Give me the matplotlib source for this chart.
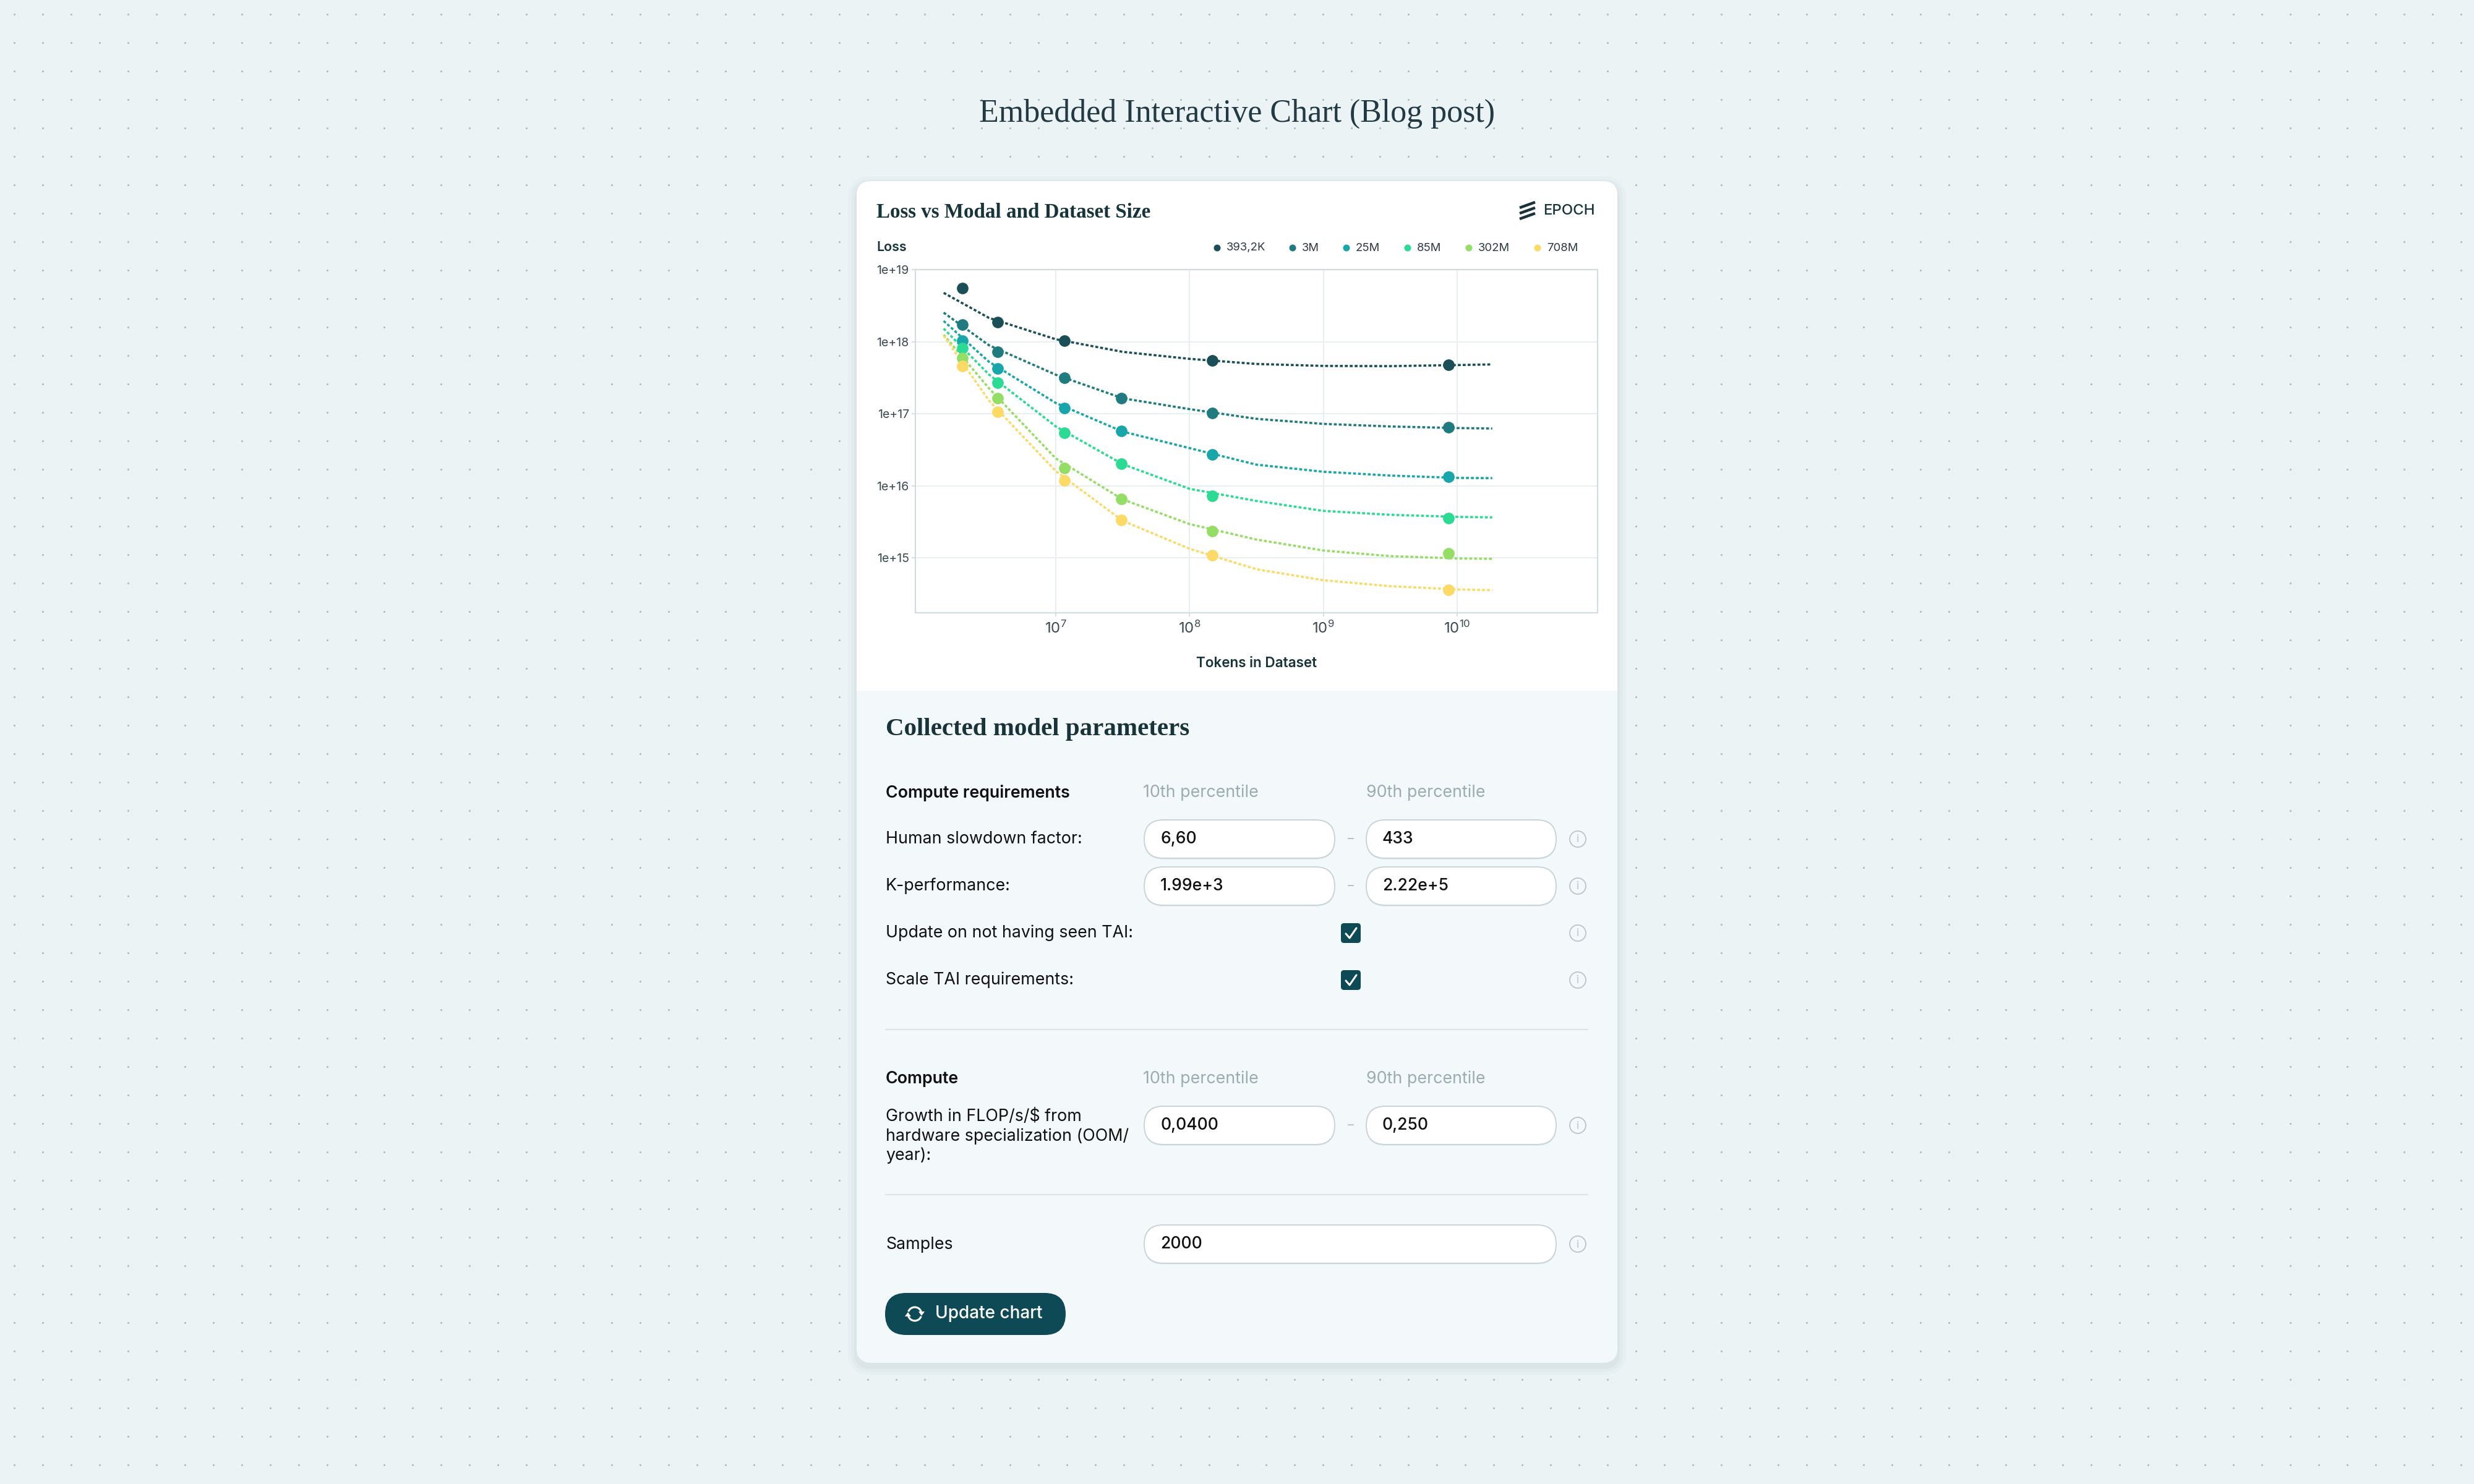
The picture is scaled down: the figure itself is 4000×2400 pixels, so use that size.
import numpy as np
import matplotlib
matplotlib.use("Agg")
import matplotlib.pyplot as plt
from matplotlib.patches import FancyBboxPatch, Circle, Rectangle, Arc, Polygon
from matplotlib.ticker import FixedLocator, NullLocator

SANS = ['Inter', 'DejaVu Sans']
SERIF = ['Liberation Serif', 'DejaVu Serif']
plt.rcParams['font.family'] = SANS
plt.rcParams['mathtext.fontset'] = 'custom'
plt.rcParams['mathtext.rm'] = 'Inter'
plt.rcParams['mathtext.it'] = 'Inter'
plt.rcParams['mathtext.bf'] = 'Inter'

# ---- chart data ----
model_sizes = ['393,2K', '3M', '25M', '85M', '302M', '708M']
series_colors = ['#1B4F58', '#1F7B80', '#18A6AB', '#2BDB93', '#95DE66', '#FDD966']

tokens = [2.00e6, 3.66e6, 1.16e7, 3.09e7, 1.48e8, 8.65e9]
loss_393k = [5.56e18, 1.87e18, 1.03e18, np.nan, 5.46e17, 4.74e17]
loss_3m = [1.72e18, 7.23e17, 3.16e17, 1.66e17, 1.03e17, 6.53e16]
loss_25m = [1.03e18, 4.27e17, 1.19e17, 5.75e16, 2.75e16, 1.34e16]
loss_85m = [8.20e17, 2.67e17, 5.40e16, 2.04e16, 7.26e15, 3.57e15]
loss_302m = [5.98e17, 1.66e17, 1.77e16, 6.64e15, 2.36e15, 1.16e15]
loss_708m = [4.61e17, 1.07e17, 1.19e16, 3.35e15, 1.09e15, 3.58e14]

# dotted fit lines, sampled along each curve
fit_tokens = [1.45e6, 3.16e6, 1.0e7, 3.16e7, 1.0e8, 3.16e8, 1.0e9, 3.16e9, 1.0e10, 1.83e10]
fit_393k = [4.76e18, 2.14e18, 1.08e18, 7.23e17, 5.78e17, 4.91e17, 4.61e17, 4.58e17, 4.74e17, 4.84e17]
fit_3m = [2.53e18, 8.93e17, 3.48e17, 1.64e17, 1.16e17, 8.51e16, 7.24e16, 6.67e16, 6.34e16, 6.25e16]
fit_25m = [1.94e18, 5.27e17, 1.41e17, 5.66e16, 3.34e16, 1.97e16, 1.57e16, 1.39e16, 1.29e16, 1.28e16]
fit_85m = [1.52e18, 3.51e17, 6.67e16, 2.00e16, 9.10e15, 6.18e15, 4.50e15, 3.97e15, 3.72e15, 3.65e15]
fit_302m = [1.25e18, 2.26e17, 2.40e16, 6.49e15, 2.95e15, 1.80e15, 1.27e15, 1.06e15, 9.86e14, 9.73e14]
fit_708m = [1.21e18, 1.53e17, 1.60e16, 3.28e15, 1.34e15, 6.98e14, 4.91e14, 4.06e14, 3.66e14, 3.58e14]

y_ticks = [1e15, 1e16, 1e17, 1e18, 1e19]
y_tick_labels = ['1e+15', '1e+16', '1e+17', '1e+18', '1e+19']
x_ticks = [1e7, 1e8, 1e9, 1e10]
x_tick_labels = [r'$10^{7}$', r'$10^{8}$', r'$10^{9}$', r'$10^{10}$']

# ---- form contents ----
range_rows = [('Human slowdown factor:', '6,60', '433'),
              ('K-performance:', '1.99e+3', '2.22e+5')]
check_rows = ['Update on not having seen TAI:', 'Scale TAI requirements:']
growth_label = ['Growth in FLOP/s/\\$ from', 'hardware specialization (OOM/', 'year):']
growth_values = ('0,0400', '0,250')
samples_value = '2000'

W, H = 4000, 2400
DARK = '#17343B'
TEAL = '#0E4A55'
GREY = '#9DACB1'
LABEL_PX = 26.8


def pt(px):
    # font size in points for a given em size in pixels (dpi 100)
    return px * 0.72


def rbox(ax, x, y, w, h, r, **kw):
    p = FancyBboxPatch((x, y), w, h, boxstyle=f'round,pad=0,rounding_size={r}', **kw)
    ax.add_patch(p)
    return p


def input_box(ax, x0, x1, yc, value, h=62):
    rbox(ax, x0, yc - h / 2 + 2, x1 - x0, h, h / 2, fc='#E4EBED', ec='none', zorder=2)
    rbox(ax, x0, yc - h / 2, x1 - x0, h, h / 2, fc='white', ec='#C9D4D7', lw=1.4, zorder=3)
    ax.text(x0 + 26, yc, value, fontsize=pt(26.5), color='#111111', weight='medium',
            ha='left', va='center', zorder=4)


def info_icon(ax, yc):
    ax.add_patch(Circle((2551, yc), 13, fill=False, ec='#BAC5C9', lw=1.3, zorder=3))
    ax.text(2551, yc + 1, 'i', fontsize=pt(17), color='#BAC5C9', ha='center', va='center', zorder=4)


def checkbox(ax, yc):
    rbox(ax, 2168, yc - 16, 32, 32, 5, fc=TEAL, ec='none', zorder=3)
    ax.plot([2176, 2182, 2193], [yc + 1, yc + 8, yc - 8], color='white', lw=2.2,
            solid_capstyle='round', zorder=4)


def main():
    fig = plt.figure(figsize=(W / 100, H / 100), dpi=100, facecolor='#EBF3F5')
    ui = fig.add_axes([0, 0, 1, 1])
    ui.set_xlim(0, W)
    ui.set_ylim(H, 0)
    ui.axis('off')

    # dotted page background
    gx, gy = np.meshgrid(np.arange(23, W, 46), np.arange(23, H, 46))
    ui.scatter(gx.ravel(), gy.ravel(), s=5, color='#B1BCC0', lw=0, zorder=0)

    ui.text(2000, 184, 'Embedded Interactive Chart (Blog post)', family=SERIF,
            fontsize=pt(52), color='#223A44', ha='center', va='center')

    # card with soft shadow
    for i, a in enumerate([0.018, 0.022, 0.028]):
        g = 14 - i * 5
        rbox(ui, 1385 - g, 293 - g + 6, 1230 + 2 * g, 1911 + 2 * g, 24 + g,
             fc='#1B3A44', ec='none', alpha=a, zorder=1)
    rbox(ui, 1385, 293, 1230, 1911, 24, fc='#F3F8FA', ec='none', zorder=1)
    rbox(ui, 1385, 293, 1230, 824, 24, fc='white', ec='none', zorder=1)
    ui.add_patch(Rectangle((1385, 1080), 1230, 37, fc='white', ec='none', zorder=1))

    # chart header
    ui.text(1417, 343, 'Loss vs Modal and Dataset Size', family=SERIF, weight='bold',
            fontsize=pt(33), color=DARK, ha='left', va='center', zorder=5)
    for i in range(3):
        yb = 340 + (i - 1) * 9
        ui.plot([2457, 2482], [yb + 5, yb - 4], color=DARK, lw=3.2,
                solid_capstyle='butt', zorder=5)
    ui.text(2495, 341, 'EPOCH', fontsize=pt(24), weight='medium', color=DARK,
            ha='left', va='center', zorder=5)
    ui.text(1417, 400, 'Loss', fontsize=pt(21.5), weight='semibold', color=DARK,
            ha='left', va='center', zorder=5)

    legend_x = [1968, 2090, 2177, 2276, 2375, 2486]
    for lx, name, c in zip(legend_x, model_sizes, series_colors):
        ui.add_patch(Circle((lx, 401), 5.5, fc=c, ec='none', zorder=5))
        ui.text(lx + 15, 401, name, fontsize=pt(18.5), color='#2A3A3F',
                ha='left', va='center', zorder=5)

    ui.text(2032, 1073, 'Tokens in Dataset', fontsize=pt(22.5), weight='semibold',
            color=DARK, ha='center', va='center', zorder=5)

    # ---- the chart ----
    ax = fig.add_axes([1480 / W, 1 - 991 / H, (2583 - 1480) / W, (991 - 436) / H], zorder=3)
    ax.set_xscale('log')
    ax.set_yscale('log')
    ax.set_facecolor('white')
    all_loss = [loss_393k, loss_3m, loss_25m, loss_85m, loss_302m, loss_708m]
    all_fit = [fit_393k, fit_3m, fit_25m, fit_85m, fit_302m, fit_708m]
    for loss, fit, c in zip(all_loss, all_fit, series_colors):
        ax.plot(fit_tokens, fit, color=c, lw=2.6, dashes=(1.3, 0.9), zorder=2)
        ax.scatter(tokens, loss, s=13.5 ** 2, color=c, lw=0, zorder=3)
    ax.set_xlim(10 ** 5.95, 10 ** 11.05)
    ax.set_ylim(10 ** 14.24, 10 ** 19)
    ax.xaxis.set_major_locator(FixedLocator(x_ticks))
    ax.yaxis.set_major_locator(FixedLocator(y_ticks))
    ax.xaxis.set_minor_locator(NullLocator())
    ax.yaxis.set_minor_locator(NullLocator())
    ax.set_xticklabels(x_tick_labels)
    ax.set_yticklabels(y_tick_labels)
    ax.grid(True, color='#E8EFF1', lw=1.5, zorder=0)
    ax.set_axisbelow(True)
    for s in ax.spines.values():
        s.set_color('#D3DCDE')
        s.set_linewidth(1.6)
    ax.tick_params(axis='x', length=4.3, width=1.3, color='#D3DCDE', pad=5,
                   labelsize=pt(24), labelcolor='#3A4A50')
    ax.tick_params(axis='y', length=4.3, width=1.3, color='#D3DCDE', pad=3,
                   labelsize=pt(19.5), labelcolor='#3A4A50')

    # ---- parameter form ----
    ui.text(1432, 1179, 'Collected model parameters', family=SERIF, weight='bold',
            fontsize=pt(41), color=DARK, ha='left', va='center', zorder=5)

    lab = dict(fontsize=pt(LABEL_PX), ha='left', va='center', zorder=5)
    for yh, head in [(1282, 'Compute requirements'), (1745, 'Compute')]:
        ui.text(1432, yh, head, color='#111111', weight='semibold', **lab)
        ui.text(1848, yh, '10th percentile', color=GREY, **lab)
        ui.text(2209, yh, '90th percentile', color=GREY, **lab)

    for yc, (name, lo, hi) in zip([1357, 1433], range_rows):
        ui.text(1432, yc, name, color='#111111', **lab)
        input_box(ui, 1850, 2158, yc, lo)
        input_box(ui, 2209, 2516, yc, hi)
        ui.text(2184, yc, '–', color='#A9B6BA', fontsize=pt(20), ha='center', va='center')
        info_icon(ui, yc)

    for yc, name in zip([1509, 1585], check_rows):
        ui.text(1432, yc, name, color='#111111', **lab)
        checkbox(ui, yc)
        info_icon(ui, yc)

    ui.plot([1432, 2567], [1665, 1665], color='#DCE5E8', lw=1.6, zorder=2)

    for yl, line in zip([1806, 1838, 1869], growth_label):
        ui.text(1432, yl, line, color='#111111', **lab)
    input_box(ui, 1850, 2158, 1820, growth_values[0])
    input_box(ui, 2209, 2516, 1820, growth_values[1])
    ui.text(2184, 1820, '–', color='#A9B6BA', fontsize=pt(20), ha='center', va='center')
    info_icon(ui, 1820)

    ui.plot([1432, 2567], [1932, 1932], color='#DCE5E8', lw=1.6, zorder=2)

    ui.text(1432, 2013, 'Samples', color='#111111', **lab)
    input_box(ui, 1850, 2516, 2012, samples_value)
    info_icon(ui, 2012)

    # update button
    rbox(ui, 1431, 2091, 292, 68, 34, fc=TEAL, ec='none', zorder=3)
    cx, cy, r = 1479, 2125, 11
    ui.add_patch(Arc((cx, cy), 2 * r, 2 * r, theta1=200, theta2=340, color='white', lw=2.2, zorder=4))
    ui.add_patch(Arc((cx, cy), 2 * r, 2 * r, theta1=20, theta2=160, color='white', lw=2.2, zorder=4))
    ui.add_patch(Polygon([[cx + r - 5, cy - 4], [cx + r + 5, cy - 4], [cx + r, cy + 3]],
                         fc='white', ec='none', zorder=4))
    ui.add_patch(Polygon([[cx - r - 5, cy + 4], [cx - r + 5, cy + 4], [cx - r, cy - 3]],
                         fc='white', ec='none', zorder=4))
    ui.text(1512, 2125, 'Update chart', color='white', fontsize=pt(28), weight='medium',
            ha='left', va='center', zorder=5)

    fig.savefig('out.png', dpi=100, facecolor=fig.get_facecolor())


if __name__ == '__main__':
    main()
